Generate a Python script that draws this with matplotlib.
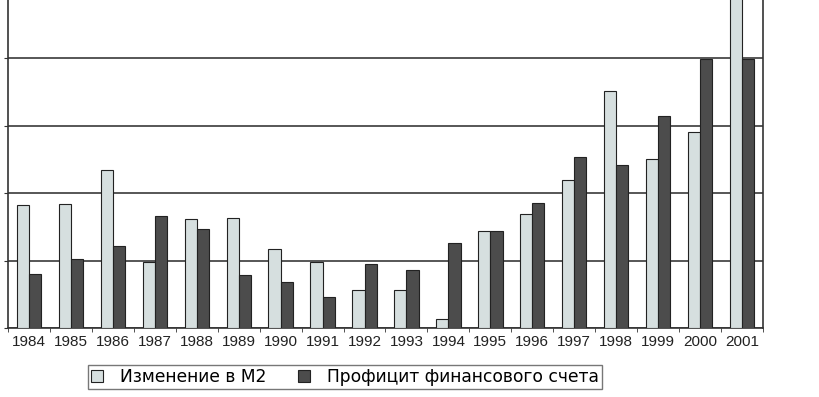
import matplotlib
matplotlib.use("Agg")
import matplotlib.pyplot as plt
import numpy as np

years = ["1984", "1985", "1986", "1987", "1988", "1989", "1990", "1991", "1992",
         "1993", "1994", "1995", "1996", "1997", "1998", "1999", "2000", "2001"]
m2_change = [1.83, 1.84, 2.35, 0.98, 1.62, 1.63, 1.17, 0.98, 0.56,
             0.56, 0.13, 1.44, 1.69, 2.20, 3.52, 2.51, 2.91, 5.3]
fin_surplus = [0.80, 1.03, 1.22, 1.66, 1.47, 0.79, 0.68, 0.46, 0.95,
               0.86, 1.26, 1.44, 1.85, 2.54, 2.42, 3.14, 3.99, 3.99]
series_names = ["Изменение в М2", "Профицит финансового счета"]

plt.rcParams['font.family'] = ['Liberation Sans', 'DejaVu Sans']

fig = plt.figure(figsize=(8.19, 3.97), dpi=100)
ax = fig.add_axes([8/819, 1-328/397, 755/819, 337/397])

x = np.arange(len(years))
w = 0.29
light = "#d6dfdf"
dark = "#4c4c4c"
ax.bar(x - w/2, m2_change, w, color=light, edgecolor="#222222", linewidth=0.8,
       label=series_names[0], zorder=3)
ax.bar(x + w/2, fin_surplus, w, color=dark, edgecolor="#222222", linewidth=0.8,
       label=series_names[1], zorder=3)

ax.set_xlim(-0.5, len(years) - 0.5)
ax.set_ylim(0, 5)
ax.set_yticks([0, 1, 2, 3, 4, 5])
ax.set_yticklabels([])
ax.tick_params(axis='y', length=3, direction='out', color="#333333")
ax.yaxis.grid(True, color="#3a3a3a", linewidth=1.2, zorder=0)
ax.set_axisbelow(True)

ax.set_xticks(x)
ax.set_xticklabels(years, fontsize=11, color="#222222")
ax.tick_params(axis='x', length=0, pad=5)
ax.set_xticks(np.arange(len(years) + 1) - 0.5, minor=True)
ax.tick_params(axis='x', which='minor', length=3, direction='out', color="#333333")

for s in ["left", "right", "bottom"]:
    ax.spines[s].set_color("#333333")
    ax.spines[s].set_linewidth(1.2)
ax.spines["top"].set_visible(False)

leg = fig.legend(loc="center", bbox_to_anchor=(345/819, 1-377/397), ncol=2,
                 frameon=True, fancybox=False, handlelength=0.7,
                 handleheight=0.7, columnspacing=1.8, handletextpad=1.0,
                 borderpad=0.2, prop={'family': ['DejaVu Sans'], 'size': 12.3})
leg.get_frame().set_edgecolor("#555555")
leg.get_frame().set_linewidth(1.0)

fig.savefig("out.png", dpi=100)
